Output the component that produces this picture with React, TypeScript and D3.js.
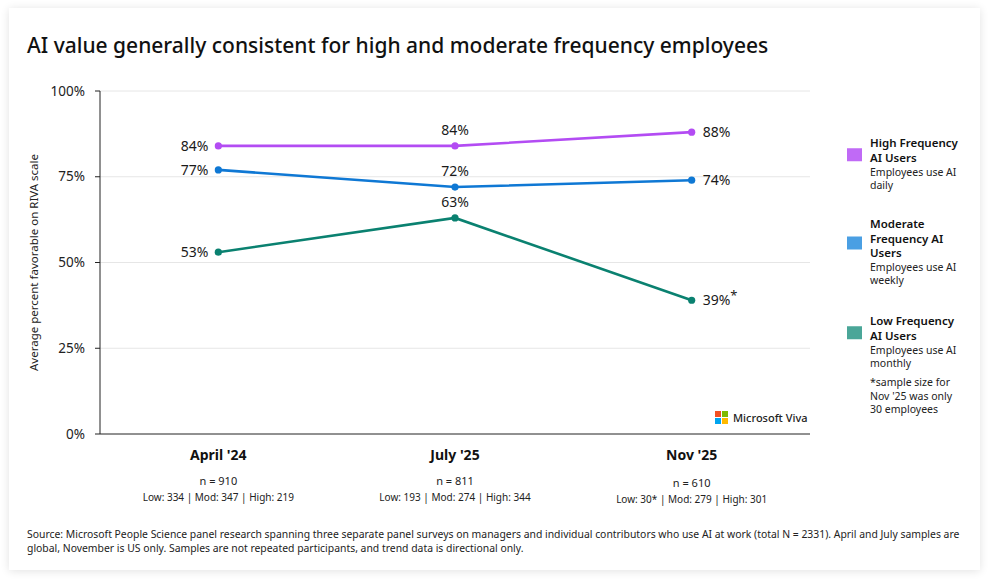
import React from "react";
import * as d3 from "d3";

const categories = ["April '24", "July '25", "Nov '25"];
const highValues = [84, 84, 88];
const modValues = [77, 72, 74];
const lowValues = [53, 63, 39];
const sampleN = ["n = 910", "n = 811", "n = 610"];
const sampleSplit = ["Low: 334 | Mod: 347 | High: 219", "Low: 193 | Mod: 274 | High: 344", "Low: 30* | Mod: 279 | High: 301"];
const yTicks = [0, 25, 50, 75, 100];
const labelPos = ["left", "above", "right"];

const series = [
  { key: "high", values: highValues, line: "#b34cf3", legend: "#c06af6", title: ["High Frequency", "AI Users"], desc: ["Employees use AI", "daily"], suffix: ["", "", ""] },
  { key: "mod", values: modValues, line: "#0f78d4", legend: "#4a9fe3", title: ["Moderate", "Frequency AI", "Users"], desc: ["Employees use AI", "weekly"], suffix: ["", "", ""] },
  { key: "low", values: lowValues, line: "#0a8170", legend: "#4aa698", title: ["Low Frequency", "AI Users"], desc: ["Employees use AI", "monthly"], suffix: ["", "", "*"] },
];

const FONT = "'Noto Sans', 'Open Sans', sans-serif";

export default function App() {
  const W = 998, H = 584;
  const left = 100, right = 810, top = 91, bottom = 434;
  const x = d3.scaleBand().domain(categories).range([left, right]);
  const y = d3.scaleLinear().domain([0, 100]).range([bottom, top]);
  const cx = (c: string) => (x(c) as number) + x.bandwidth() / 2;
  const line = d3.line<number>().x((_, i) => cx(categories[i])).y((v) => y(v));

  const legendTops = [143, 224, 321];

  return (
    <svg width={W} height={H} style={{ position: "absolute", left: 0, top: 0, fontFamily: FONT }}>
      <defs>
        <filter id="sh" x="-5%" y="-5%" width="110%" height="110%">
          <feGaussianBlur in="SourceAlpha" stdDeviation="5" />
          <feOffset dx="0" dy="1" />
          <feComponentTransfer><feFuncA type="linear" slope="0.12" /></feComponentTransfer>
          <feMerge><feMergeNode /><feMergeNode in="SourceGraphic" /></feMerge>
        </filter>
      </defs>
      <rect x={0} y={0} width={W} height={H} fill="#ffffff" />
      <rect x={9} y={8} width={971} height={562} fill="#ffffff" filter="url(#sh)" />
      <text x={27} y={53} fontSize={21} fontWeight={500} fill="#111">AI value generally consistent for high and moderate frequency employees</text>

      {yTicks.map((t) => (
        <g key={t}>
          {t > 0 && <line x1={left} x2={right} y1={y(t)} y2={y(t)} stroke="#e6e6e6" strokeWidth={1} />}
          <line x1={left - 5} x2={left} y1={y(t)} y2={y(t)} stroke="#222" strokeWidth={1} />
          <text x={85} y={y(t)} dy="0.35em" textAnchor="end" fontSize={13.5} fill="#222">{t}%</text>
        </g>
      ))}
      <line x1={left} x2={left} y1={top} y2={bottom} stroke="#222" strokeWidth={1} />
      <line x1={left} x2={right} y1={bottom} y2={bottom} stroke="#222" strokeWidth={1} />
      <text transform={`translate(38,${(top + bottom) / 2}) rotate(-90)`} textAnchor="middle" fontSize={11.5} fill="#222">Average percent favorable on RIVA scale</text>

      {series.map((s) => (
        <g key={s.key}>
          <path d={line(s.values) || ""} fill="none" stroke={s.line} strokeWidth={2.6} />
          {s.values.map((v, i) => (
            <circle key={i} cx={cx(categories[i])} cy={y(v)} r={3.6} fill={s.line} />
          ))}
          {s.values.map((v, i) => {
            const pos = labelPos[i];
            const px = cx(categories[i]);
            const py = y(v);
            if (pos === "left")
              return <text key={"l" + i} x={px - 10} y={py + 5} textAnchor="end" fontSize={14} fill="#1a1a1a">{v}%</text>;
            if (pos === "above")
              return <text key={"l" + i} x={px} y={py - 11} textAnchor="middle" fontSize={14} fill="#1a1a1a">{v}%</text>;
            return (
              <text key={"l" + i} x={px + 11} y={py + 5} textAnchor="start" fontSize={14} fill="#1a1a1a">
                {v}%{s.suffix[i] && <tspan dy={-5} fontSize={13}>{s.suffix[i]}</tspan>}
              </text>
            );
          })}
        </g>
      ))}

      {categories.map((c, i) => (
        <g key={c}>
          <text x={cx(c)} y={460} textAnchor="middle" fontSize={14} fontWeight={700} fill="#111">{c}</text>
          <text x={cx(c)} y={485 + (i === 2 ? 2 : 0)} textAnchor="middle" fontSize={11} fill="#222">{sampleN[i]}</text>
          <text x={cx(c)} y={501 + (i === 2 ? 2 : 0)} textAnchor="middle" fontSize={10} fill="#222">{sampleSplit[i]}</text>
        </g>
      ))}

      <g>
        <rect x={715} y={411} width={6} height={6} fill="#f25022" />
        <rect x={722} y={411} width={6} height={6} fill="#7fba00" />
        <rect x={715} y={418} width={6} height={6} fill="#00a4ef" />
        <rect x={722} y={418} width={6} height={6} fill="#ffb900" />
        <text x={733} y={422} fontSize={11} fontWeight={500} fill="#222">Microsoft Viva</text>
      </g>

      {series.map((s, k) => {
        const t0 = legendTops[k];
        const sqY = t0 + (s.title.length - 1) * 14.5 / 2;
        return (
          <g key={"lg" + s.key}>
            <rect x={847} y={sqY - 2} width={15} height={13} fill={s.legend} />
            {s.title.map((tl, j) => (
              <text key={j} x={870} y={t0 + 4 + j * 14.5} fontSize={11.5} fontWeight={600} fill="#111">{tl}</text>
            ))}
            {s.desc.map((dl, j) => (
              <text key={"d" + j} x={870} y={t0 + 4 + s.title.length * 14.5 - 0.5 + j * 13.2} fontSize={10.5} fill="#222">{dl}</text>
            ))}
          </g>
        );
      })}
      {["*sample size for", "Nov '25 was only", "30 employees"].map((t, j) => (
        <text key={"n" + j} x={870} y={386 + j * 13.5} fontSize={10.5} fill="#222">{t}</text>
      ))}

      <text x={27} y={538} fontSize={10.4} fill="#222">Source: Microsoft People Science panel research spanning three separate panel surveys on managers and individual contributors who use AI at work (total N = 2331). April and July samples are</text>
      <text x={27} y={552} fontSize={10.4} fill="#222">global, November is US only. Samples are not repeated participants, and trend data is directional only.</text>
    </svg>
  );
}
